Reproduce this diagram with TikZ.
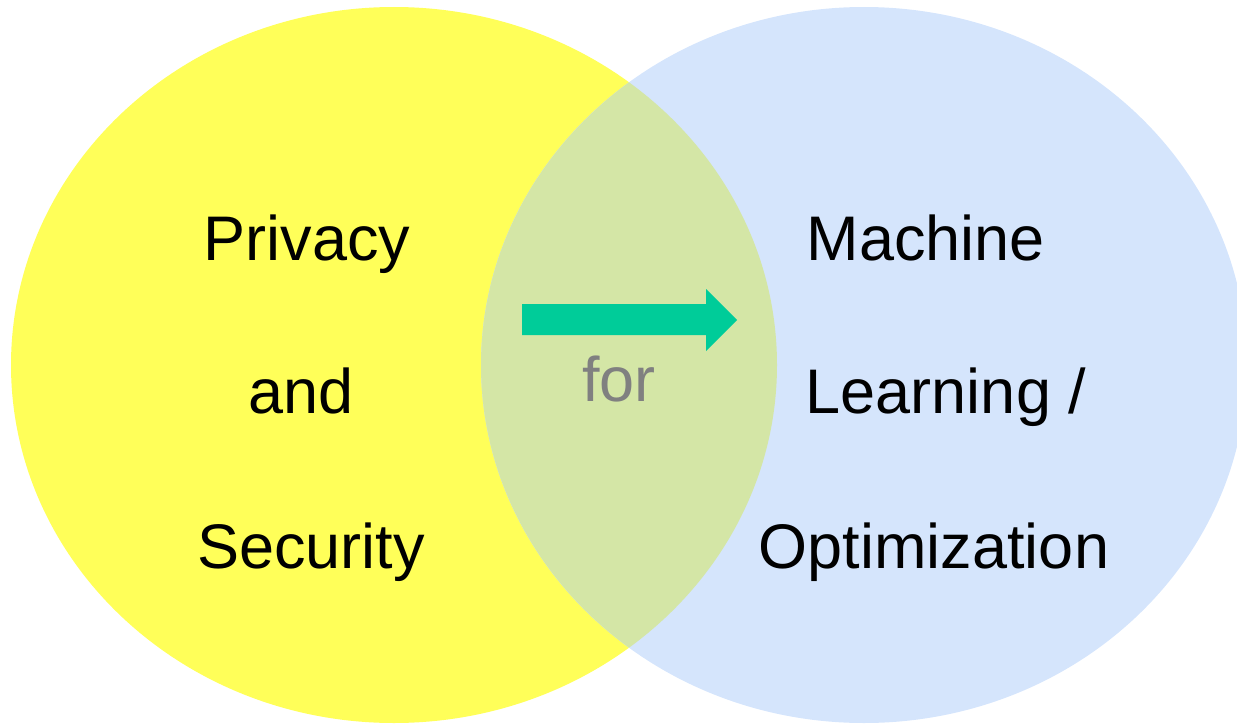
\documentclass[tikz,border=0pt]{standalone}
\usepackage{fontspec}
\setmainfont{Liberation Sans}
\definecolor{cyellow}{HTML}{FFFF59}
\definecolor{cblue}{HTML}{D5E5FC}
\definecolor{cover}{HTML}{D4E6A6}
\definecolor{carrow}{HTML}{00CC99}
\definecolor{cfor}{HTML}{808080}
\begin{document}
\begin{tikzpicture}[x=1pt,y=-1pt,
  lbl/.style={anchor=base,inner sep=0pt,font=\fontsize{63}{75}\selectfont},
  forlbl/.style={lbl,text=cfor}]
\useasboundingbox (0,0) rectangle (1237,725);
\clip (0,0) rectangle (1237,725);
\fill[cyellow] (394,365) ellipse [x radius=383, y radius=358];
\fill[cblue] (864,365) ellipse [x radius=383, y radius=358];
\begin{scope}
  \clip (394,365) ellipse [x radius=383, y radius=358];
  \fill[cover] (864,365) ellipse [x radius=383, y radius=358];
\end{scope}
\fill[carrow] (522,304) -- (706,304) -- (706,289) -- (737,320) -- (706,351) -- (706,335) -- (522,335) -- cycle;
\node[lbl] (privacy) at (307,260) {Privacy};
\node[lbl] (and) at (301,413) {and};
\node[lbl] (security) at (311,568) {Security};
\node[lbl] (machine) at (926,260) {Machine};
\node[lbl] (learning) at (946,413) {Learning /};
\node[lbl] (optim) at (934,568) {Optimization};
\node[forlbl] (for) at (619,401) {for};
\end{tikzpicture}
\end{document}
